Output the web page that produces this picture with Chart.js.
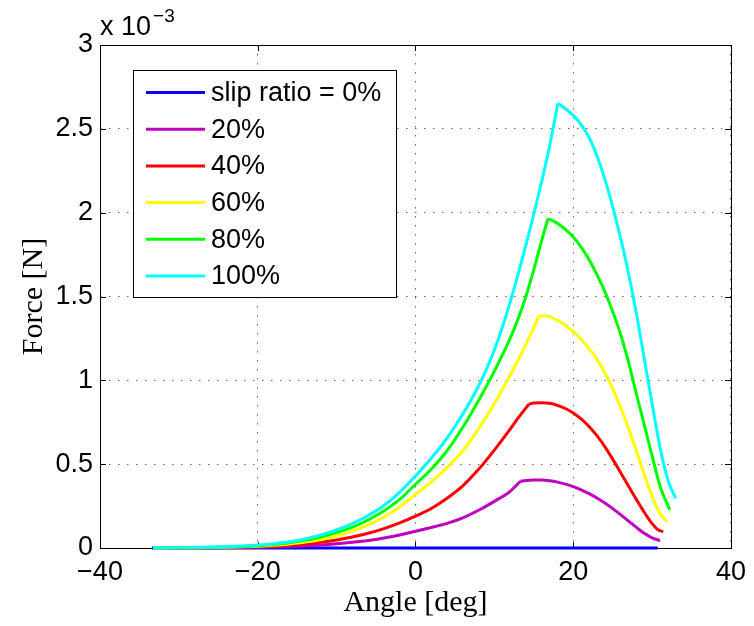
<!DOCTYPE html>
<html>
<head>
<meta charset="utf-8">
<script src="https://cdn.jsdelivr.net/npm/chart.js@4.4.1/dist/chart.umd.min.js"></script>
<style>
  html, body { margin: 0; padding: 0; background: #fff; }
  canvas { display: block; }
</style>
</head>
<body>
<canvas id="c" width="754" height="626"></canvas>
<script>
// Lateral force vs. slip angle for several slip ratios (force in units of 1e-3 N)
const seriesLabels = ['slip ratio = 0%', '20%', '40%', '60%', '80%', '100%'];
const seriesColors = ['#0000ff', '#bf00bf', '#ff0000', '#ffff00', '#00ff00', '#00ffff'];
// angle where each curve switches from the rising branch to the falling branch
const kinkAngles = [null, 13.3, 14.4, 15.6, 16.8, 18.05];

const angle0 = [-33.4, -20, -10, 0, 10, 20, 30.7];
const force0 = [0, 0, 0, 0, 0, 0, 0];

const angle20 = [-33, -30, -27, -24, -22, -20, -18, -16, -14, -12, -10, -8, -6, -4, -2, 0, 2, 4, 6, 8, 10, 12, 13.3, 14, 15, 16, 17, 18, 19, 20, 21, 22, 23, 24, 25, 26, 27, 28, 29, 30, 31];
const force20 = [0.0001, 0.0003, 0.0008, 0.0017, 0.0026, 0.004, 0.006, 0.009, 0.013, 0.018, 0.025, 0.034, 0.045, 0.060, 0.078, 0.100, 0.122, 0.147, 0.180, 0.225, 0.278, 0.338, 0.398, 0.403, 0.405, 0.405, 0.401, 0.393, 0.381, 0.366, 0.347, 0.324, 0.298, 0.268, 0.235, 0.199, 0.161, 0.123, 0.088, 0.061, 0.044];

const angle40 = [-33, -30, -27, -24, -22, -20, -18, -16, -14, -12, -10, -8, -6, -4, -2, 0, 2, 4, 6, 8, 10, 12, 13, 14.4, 15, 16, 17, 18, 19, 20, 21, 22, 23, 24, 25, 26, 27, 28, 29, 30, 30.7, 31.4];
const force40 = [0.0003, 0.0006, 0.0013, 0.0027, 0.0043, 0.0068, 0.0105, 0.016, 0.024, 0.034, 0.048, 0.066, 0.088, 0.116, 0.150, 0.190, 0.236, 0.297, 0.371, 0.469, 0.584, 0.709, 0.774, 0.859, 0.865, 0.867, 0.863, 0.851, 0.832, 0.805, 0.770, 0.725, 0.670, 0.605, 0.530, 0.450, 0.370, 0.290, 0.213, 0.145, 0.110, 0.097];

const angle60 = [-33, -30, -27, -24, -22, -20, -18, -16, -14, -12, -10, -8, -6, -4, -2, 0, 2, 4, 6, 8, 10, 12, 13, 14, 15, 15.6, 16.2, 17, 18, 19, 20, 21, 22, 23, 24, 25, 26, 27, 28, 29, 30, 31, 31.9];
const force60 = [0.0005, 0.001, 0.0022, 0.0045, 0.0068, 0.0105, 0.016, 0.024, 0.035, 0.051, 0.072, 0.101, 0.138, 0.185, 0.245, 0.320, 0.395, 0.480, 0.580, 0.710, 0.860, 1.030, 1.120, 1.215, 1.315, 1.379, 1.385, 1.380, 1.358, 1.328, 1.290, 1.245, 1.190, 1.125, 1.045, 0.950, 0.840, 0.715, 0.580, 0.440, 0.310, 0.205, 0.157];

const angle80 = [-33, -30, -27, -24, -22, -20, -18, -16, -14, -12, -10, -8, -6, -4, -2, 0, 2, 4, 6, 8, 10, 12, 13, 14, 15, 16, 16.8, 17.7, 19, 20, 21, 22, 23, 24, 25, 26, 27, 28, 29, 30, 31, 32.25];
const force80 = [0.0007, 0.0015, 0.003, 0.006, 0.009, 0.014, 0.021, 0.031, 0.046, 0.066, 0.092, 0.125, 0.168, 0.222, 0.290, 0.380, 0.470, 0.580, 0.720, 0.880, 1.055, 1.250, 1.365, 1.500, 1.660, 1.835, 1.965, 1.945, 1.900, 1.855, 1.795, 1.720, 1.630, 1.530, 1.410, 1.275, 1.110, 0.920, 0.735, 0.550, 0.370, 0.227];

const angle100 = [-33.3, -30, -27, -24, -22, -20, -18, -16, -14, -12, -10, -8, -6, -4, -2, 0, 2, 4, 6, 8, 10, 12, 14, 16, 17, 18.05, 19, 20, 21, 22, 23, 24, 25, 26, 27, 28, 29, 30, 31, 32, 33];
const force100 = [0.001, 0.002, 0.004, 0.008, 0.012, 0.018, 0.026, 0.037, 0.054, 0.078, 0.108, 0.146, 0.194, 0.253, 0.333, 0.430, 0.535, 0.656, 0.799, 0.966, 1.181, 1.466, 1.806, 2.186, 2.397, 2.652, 2.620, 2.580, 2.525, 2.450, 2.340, 2.200, 2.035, 1.850, 1.640, 1.400, 1.130, 0.860, 0.600, 0.405, 0.296];

const angleSets = [angle0, angle20, angle40, angle60, angle80, angle100];
const forceSets = [force0, force20, force40, force60, force80, force100];

const xTicks = [-40, -20, 0, 20, 40];
const yTicks = [0, 0.5, 1, 1.5, 2, 2.5, 3];

const SANS = "'Liberation Sans', Arial, Helvetica, sans-serif";
const SERIF = "'Liberation Serif', 'Times New Roman', serif";

function toPoints(xs, ys) {
  return xs.map((x, i) => ({ x: x, y: ys[i] }));
}

function fmtTick(v) {
  return v < 0 ? '\u2212' + Math.abs(v) : String(v);
}

// Box around the axes with inward-pointing tick marks
const framePlugin = {
  id: 'frame',
  beforeDatasetsDraw(chart) {
    const { ctx, chartArea: a, scales } = chart;
    ctx.save();
    ctx.strokeStyle = '#000';
    ctx.lineWidth = 1;
    ctx.setLineDash([]);
    ctx.strokeRect(Math.round(a.left) + 0.5, Math.round(a.top) + 0.5,
                   Math.round(a.right - a.left), Math.round(a.bottom - a.top));
    const tl = 6;
    ctx.beginPath();
    xTicks.forEach(v => {
      const px = Math.round(scales.x.getPixelForValue(v)) + 0.5;
      ctx.moveTo(px, a.bottom); ctx.lineTo(px, a.bottom - tl);
      ctx.moveTo(px, a.top); ctx.lineTo(px, a.top + tl);
    });
    yTicks.forEach(v => {
      const py = Math.round(scales.y.getPixelForValue(v)) + 0.5;
      ctx.moveTo(a.left, py); ctx.lineTo(a.left + tl, py);
      ctx.moveTo(a.right, py); ctx.lineTo(a.right - tl, py);
    });
    ctx.stroke();
    ctx.restore();
  }
};

// Exponent label above the y axis and the boxed legend inside the plot
const overlayPlugin = {
  id: 'overlay',
  afterDraw(chart) {
    const { ctx, chartArea: a } = chart;
    ctx.save();
    ctx.fillStyle = '#000';
    ctx.textAlign = 'left';
    ctx.textBaseline = 'alphabetic';
    ctx.font = '27px ' + SANS;
    ctx.fillText('x 10', a.left, a.top - 10);
    const w = ctx.measureText('x 10').width;
    ctx.font = '19px ' + SANS;
    ctx.fillText('\u22123', a.left + w + 2, a.top - 23);

    // legend box
    const bx = 133.5, by = 70.5, bw = 263, bh = 227;
    ctx.fillStyle = '#fff';
    ctx.fillRect(bx, by, bw, bh);
    ctx.strokeStyle = '#000';
    ctx.lineWidth = 1;
    ctx.strokeRect(bx, by, bw, bh);
    const rowH = 36.7;
    ctx.font = '27px ' + SANS;
    ctx.textBaseline = 'middle';
    seriesLabels.forEach((label, i) => {
      const y = 92.5 + i * rowH;
      ctx.strokeStyle = seriesColors[i];
      ctx.lineWidth = 3;
      ctx.beginPath();
      ctx.moveTo(146, y);
      ctx.lineTo(205, y);
      ctx.stroke();
      ctx.fillStyle = '#000';
      ctx.fillText(label, 211, y + 1);
    });
    ctx.restore();
  }
};

// Each curve is drawn as a rising and a falling branch so the corner at the kink stays sharp
const datasets = [];
seriesLabels.forEach((label, i) => {
  const pts = toPoints(angleSets[i], forceSets[i]);
  const k = kinkAngles[i];
  const branches = k === null ? [pts] : [pts.filter(p => p.x <= k), pts.filter(p => p.x >= k)];
  branches.forEach(data => {
    datasets.push({
      label: label,
      data: data,
      borderColor: seriesColors[i],
      backgroundColor: seriesColors[i],
      borderWidth: 3,
      pointRadius: 0,
      cubicInterpolationMode: 'monotone',
      fill: false,
      clip: 4,
      order: seriesLabels.length - i
    });
  });
});

new Chart(document.getElementById('c'), {
  type: 'line',
  data: { datasets: datasets },
  options: {
    responsive: false,
    animation: false,
    devicePixelRatio: 1,
    layout: { padding: { top: 45, right: 17, left: 0, bottom: 0 } },
    plugins: { legend: { display: false }, tooltip: { enabled: false } },
    elements: { line: { borderJoinStyle: 'round', borderCapStyle: 'butt' } },
    scales: {
      x: {
        type: 'linear',
        min: -40, max: 40,
        afterBuildTicks(scale) { scale.ticks = xTicks.map(v => ({ value: v })); },
        ticks: { callback: fmtTick, color: '#000', font: { family: SANS, size: 27 }, padding: 8, maxRotation: 0 },
        grid: { color: 'rgba(0,0,0,0.6)', lineWidth: 1, drawTicks: false },
        border: { display: false, dash: [1.5, 7.5] },
        title: { display: true, text: 'Angle [deg]', color: '#000', font: { family: SERIF, size: 30 }, padding: { top: 0, bottom: 5 } },
        afterFit(scale) { scale.height = 78; }
      },
      y: {
        type: 'linear',
        min: 0, max: 3,
        afterBuildTicks(scale) { scale.ticks = yTicks.map(v => ({ value: v })); },
        ticks: { callback: fmtTick, color: '#000', font: { family: SANS, size: 27 }, padding: 7 },
        grid: { color: 'rgba(0,0,0,0.6)', lineWidth: 1, drawTicks: false },
        border: { display: false, dash: [1.5, 7.5] },
        title: { display: true, text: 'Force [N]', color: '#000', font: { family: SERIF, size: 30 }, padding: { top: 16, bottom: 0 } },
        afterFit(scale) { scale.width = 100; }
      }
    }
  },
  plugins: [framePlugin, overlayPlugin]
});
</script>
</body>
</html>
